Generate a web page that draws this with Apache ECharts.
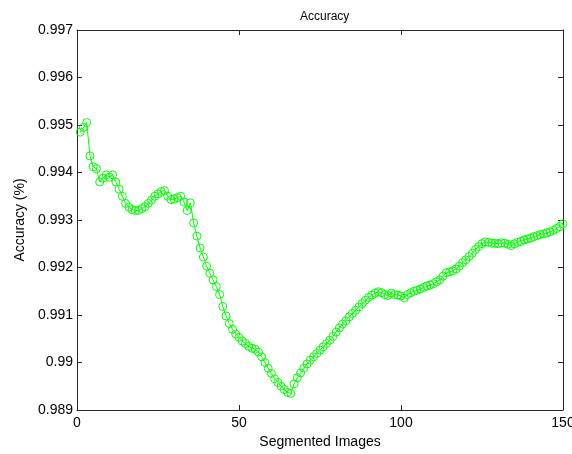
<!DOCTYPE html>
<html>
<head>
<meta charset="utf-8">
<script src="https://cdn.jsdelivr.net/npm/echarts@6/dist/echarts.min.js"></script>
<style>
html,body{margin:0;padding:0;background:#fff;}
#chart{width:572px;height:454px;}
</style>
</head>
<body>
<div id="chart"></div>
<script>
// Accuracy for segmented images 1..150
var accuracy = [
0.99485,0.99495,0.99505,0.99435,0.99412,0.99408,0.99380,0.99388,0.99395,0.99390,
0.99395,0.99380,0.99365,0.99350,0.99335,0.99327,0.99322,0.99320,0.99320,0.99324,
0.99328,0.99335,0.99342,0.99350,0.99355,0.99360,0.99362,0.99350,0.99343,0.99344,
0.99347,0.99350,0.99338,0.99320,0.99336,0.99294,0.99266,0.99241,0.99222,0.99203,
0.99188,0.99174,0.99160,0.99143,0.99118,0.99098,0.99082,0.99070,0.99060,0.99053,
0.99045,0.99040,0.99034,0.99030,0.99028,0.99022,0.99012,0.99000,0.98988,0.98977,
0.98966,0.98958,0.98950,0.98943,0.98937,0.98935,0.98955,0.98968,0.98978,0.98988,
0.98997,0.99005,0.99012,0.99019,0.99026,0.99033,0.99040,0.99047,0.99055,0.99064,
0.99073,0.99081,0.99088,0.99096,0.99103,0.99110,0.99117,0.99124,0.99131,0.99137,
0.99142,0.99146,0.99149,0.99147,0.99143,0.99141,0.99146,0.99143,0.99142,0.99140,
0.99136,0.99143,0.99147,0.99150,0.99152,0.99155,0.99158,0.99161,0.99163,0.99166,
0.99170,0.99174,0.99182,0.99189,0.99191,0.99193,0.99197,0.99203,0.99210,0.99216,
0.99223,0.99230,0.99238,0.99244,0.99250,0.99254,0.99253,0.99251,0.99251,0.99250,
0.99252,0.99251,0.99249,0.99246,0.99250,0.99253,0.99255,0.99258,0.99260,0.99262,
0.99265,0.99267,0.99269,0.99271,0.99273,0.99275,0.99278,0.99282,0.99286,0.99292
];
var imageIndex = accuracy.map(function(_, i){ return i + 1; });
var xTicks = [0, 50, 100, 150];
var yTicks = [0.989, 0.990, 0.991, 0.992, 0.993, 0.994, 0.995, 0.996, 0.997];
var titleText = 'Accuracy';
var xName = 'Segmented Images';
var yName = 'Accuracy (%)';

var points = imageIndex.map(function(x, i){ return [x, accuracy[i]]; });
var font = 'Liberation Sans, Arial, sans-serif';
var axisColor = '#262626';
function fmtY(v){ return parseFloat(v.toFixed(3)).toString(); }

var chart = echarts.init(document.getElementById('chart'), null, {renderer:'canvas'});
var baseX = {
  type:'value', min:xTicks[0], max:xTicks[xTicks.length-1], interval:50,
  axisLine:{show:true, onZero:false, lineStyle:{color:axisColor, width:1}},
  axisTick:{show:true, inside:true, length:5, lineStyle:{color:axisColor}},
  splitLine:{show:false}
};
var baseY = {
  type:'value', min:yTicks[0], max:yTicks[yTicks.length-1], interval:0.001,
  axisLine:{show:true, onZero:false, lineStyle:{color:axisColor, width:1}},
  axisTick:{show:true, inside:true, length:5, lineStyle:{color:axisColor}},
  splitLine:{show:false}
};
chart.setOption({
  animation:false,
  backgroundColor:'#fff',
  textStyle:{fontFamily:font},
  title:{
    text:titleText, left:295, top:6,
    textStyle:{fontSize:12, fontWeight:'normal', color:'#000', fontFamily:font}
  },
  grid:{left:77, top:30, right:9, bottom:44, containLabel:false, outerBoundsMode:'none'},
  xAxis:[
    Object.assign({}, baseX, {
      position:'bottom', name:xName, nameLocation:'middle', nameGap:24,
      nameTextStyle:{fontSize:14, color:'#000', fontFamily:font},
      axisLabel:{show:true, margin:6, fontSize:14, color:'#000', fontFamily:font}
    }),
    Object.assign({}, baseX, {position:'top', axisLabel:{show:false}})
  ],
  yAxis:[
    Object.assign({}, baseY, {
      position:'left', name:yName, nameLocation:'middle', nameGap:50,
      nameTextStyle:{fontSize:14, color:'#000', fontFamily:font},
      axisLabel:{show:true, margin:4, fontSize:14, color:'#000', fontFamily:font, formatter:fmtY}
    }),
    Object.assign({}, baseY, {position:'right', axisLabel:{show:false}})
  ],
  series:[{
    type:'line', data:points, xAxisIndex:0, yAxisIndex:0,
    symbol:'circle', symbolSize:8, showSymbol:true,
    lineStyle:{color:'#00ff00', width:1},
    itemStyle:{color:'rgba(0,0,0,0)', borderColor:'#00ff00', borderWidth:1},
    emphasis:{disabled:true}
  }]
});
</script>
</body>
</html>
